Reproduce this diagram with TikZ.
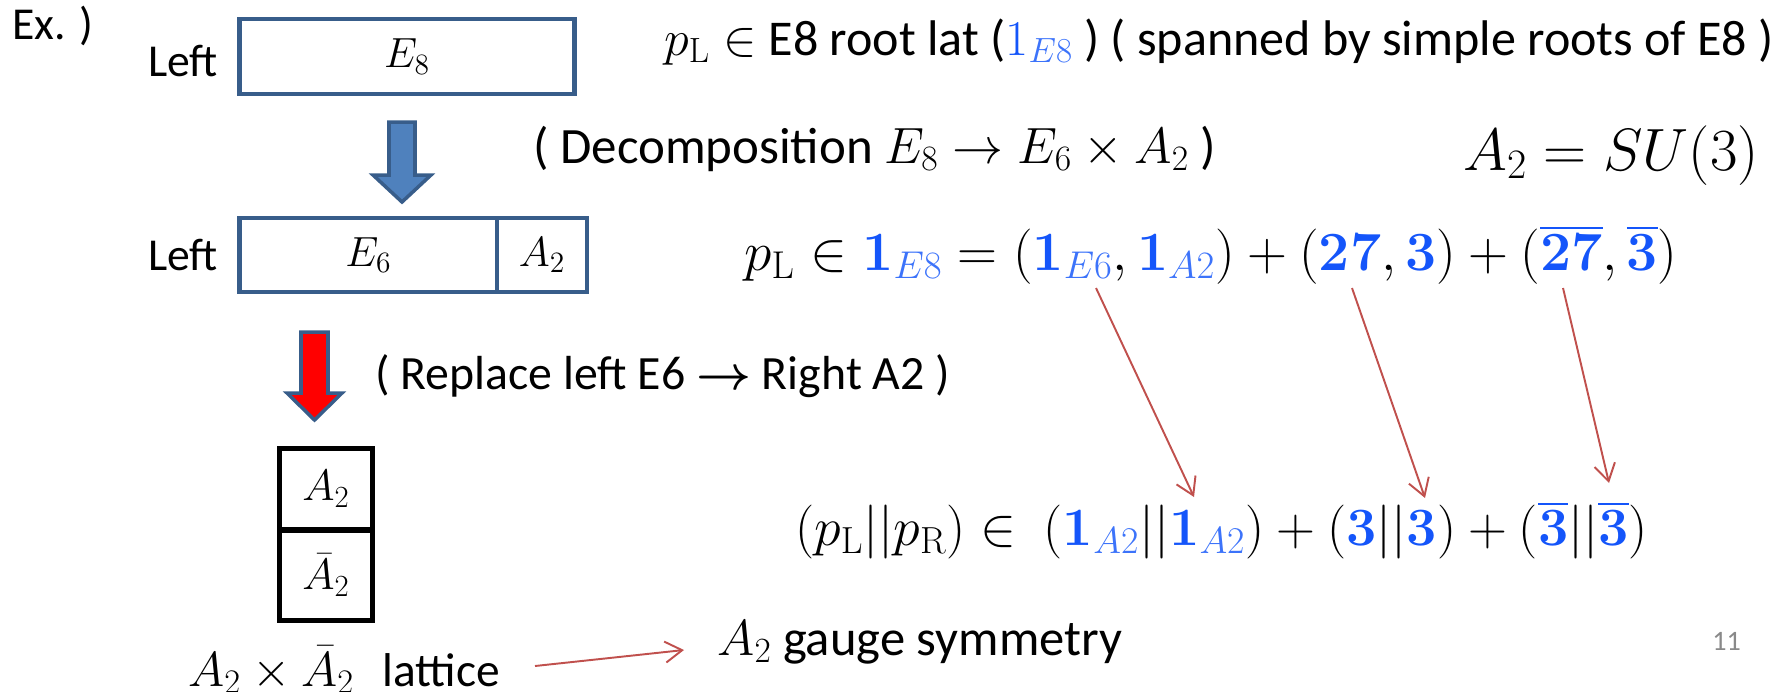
\RequirePackage{fix-cm}
\documentclass[tikz,border=0pt]{standalone}
\usepackage{amsmath}
\usepackage[no-math]{fontspec}
\setmainfont{Carlito}
\usetikzlibrary{arrows.meta, positioning, calc}
\definecolor{boxblue}{RGB}{56, 93, 138}
\definecolor{arrowblue}{RGB}{79, 129, 189}
\definecolor{linkred}{RGB}{192, 80, 77}
\definecolor{repblue}{RGB}{20, 85, 250}
\definecolor{subblue}{RGB}{60, 115, 250}
\definecolor{pagegray}{RGB}{137, 137, 137}

% bold blue representation with a lighter blue label
\newcommand{\rep}[2]{\textcolor{repblue}{\mathbf{#1}}_{\textcolor{subblue}{#2}}}
\newcommand{\brep}[1]{\textcolor{repblue}{\mathbf{#1}}}
\newcommand{\barrep}[1]{\textcolor{repblue}{\overline{\mathbf{#1}}}}

\begin{document}
\begin{tikzpicture}[
    x=0.02cm, y=-0.02cm,
    txt/.style={anchor=base west, inner sep=0pt, font=\fontsize{26}{31}\selectfont},
    eqn/.style={anchor=base west, inner sep=0pt, font=\fontsize{31.5}{37}\selectfont},
    lbox/.style={draw=boxblue, line width=2.5pt, inner sep=0pt, outer sep=0pt,
        minimum height=1.49cm, font=\fontsize{24}{29}\selectfont},
    kbox/.style={draw=black, line width=2.8pt, inner sep=0pt, outer sep=0pt,
        minimum width=1.86cm, font=\fontsize{25}{30}\selectfont},
    link/.style={draw=linkred, line width=1.1pt, -{Straight Barb[length=0.34cm, width=0.42cm]}}
]
\useasboundingbox (0,0) rectangle (1777,691);

% Heading
\node[txt] (ex) at (12,39) {Ex. )};

% Left E8 lattice
\node[txt] (left1) at (148,76) {Left};
\node[lbox, minimum width=6.7cm] (e8) at (407,56.5) {$E_8$};
\node[txt, font=\fontsize{28.5}{34}\selectfont] (rootlat) at (664,55) {$p_{\mathrm{L}} \in$ E8 root lat ($\textcolor{repblue}{1}_{\textcolor{subblue}{E8}}$ ) ( spanned by simple roots of E8 )};

% Decomposition arrow
\filldraw[fill=arrowblue, draw=boxblue, line width=2pt]
    (389,122) -- (415,122) -- (415,175) -- (431,175) -- (402,202)
    -- (373,175) -- (389,175) -- cycle;
\node[txt, font=\fontsize{29}{35}\selectfont] (decomp) at (533,163) {( Decomposition $E_8 \to E_6 \times A_2$ )};
\node[eqn, font=\fontsize{34}{41}\selectfont] (su3) at (1463,170) {$A_2 = SU(3)$};

% Left E6 x A2
\node[txt] (left2) at (148,270) {Left};
\node[lbox, minimum width=5.155cm] (e6) at (368.4,255) {$E_6$};
\node[lbox, minimum width=1.795cm, right=0pt of e6] (a2) {$A_2$};
\node[eqn] (branch) at (744,270) {$p_{\mathrm{L}} \in \rep{1}{E8} = (\rep{1}{E6}, \rep{1}{A2}) + (\brep{27}, \brep{3}) + (\barrep{27}, \barrep{3})$};

% Replace arrow
\filldraw[fill=red, draw=boxblue, line width=2pt]
    (301,332) -- (328,332) -- (328,393) -- (342,393) -- (314.5,420)
    -- (287,393) -- (301,393) -- cycle;
\node[txt, font=\fontsize{27.2}{33}\selectfont] (replace) at (375,389) {( Replace left E6 $\boldsymbol{\rightarrow}$ Right A2 )};

% A2 x A2bar lattice
\node[kbox, minimum height=1.63cm] (a2top) at (326,489.25) {$A_2$};
\node[kbox, minimum height=1.81cm, below=0pt of a2top] (a2bot) {$\bar{A}_2$};
\draw[line width=3.3pt] (a2top.south west) -- (a2top.south east);
\node[txt, font=\fontsize{27}{32}\selectfont] (lattice) at (188,686) {{\fontsize{28}{33}\selectfont$A_2 \times \bar{A}_2$}\hspace{0.6em}lattice};
\node[txt, font=\fontsize{28.8}{34}\selectfont] (gauge) at (717,655) {$A_2$ gauge symmetry};
\coordinate (latR) at (535,666);
\coordinate (gaugeL) at (684,650);
\draw[link] (latR) -- (gaugeL);

% Left || Right
\node[eqn, font=\fontsize{30.7}{36}\selectfont] (result) at (795,545) {$(p_{\mathrm{L}}||p_{\mathrm{R}}) \in\ (\rep{1}{A2}||\rep{1}{A2}) + (\brep{3}||\brep{3}) + (\barrep{3}||\barrep{3})$};

% Links between the two lines
\coordinate (s1) at (1096,288);
\coordinate (t1) at (1194,497);
\coordinate (s2) at (1352,288);
\coordinate (t2) at (1425,498);
\coordinate (s3) at (1563,288);
\coordinate (t3) at (1609,483);
\draw[link] (s1) -- (t1);
\draw[link] (s2) -- (t2);
\draw[link] (s3) -- (t3);

% Page number
\node[txt, font=\fontsize{16}{19}\selectfont, text=pagegray] (pgnum) at (1712,650) {11};

\end{tikzpicture}
\end{document}
